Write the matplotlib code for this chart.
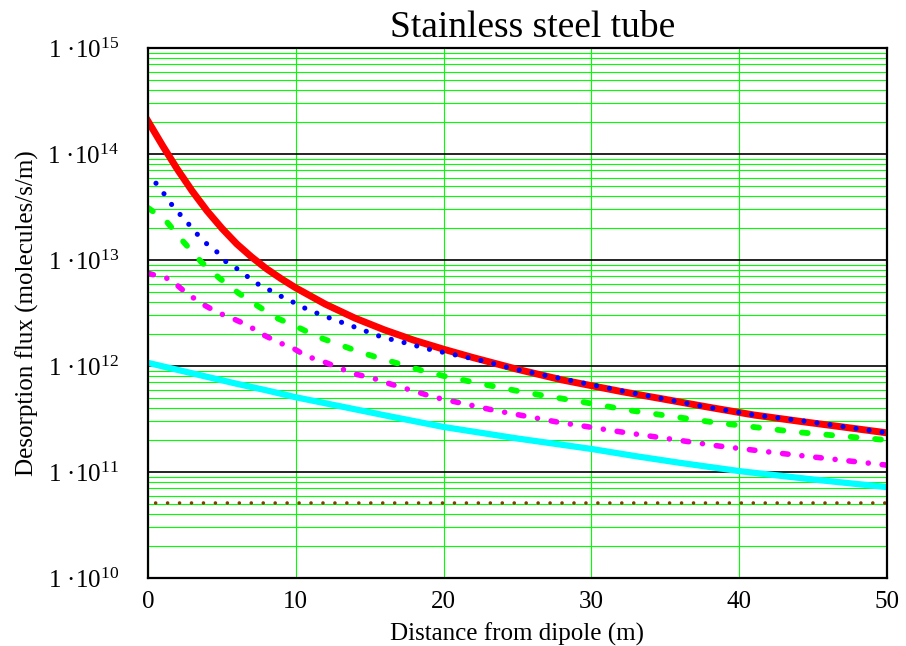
import numpy as np
import matplotlib
matplotlib.use('Agg')
import matplotlib.pyplot as plt
from matplotlib.ticker import LogLocator, NullFormatter

plt.rcParams['font.family'] = 'Liberation Serif'
plt.rcParams['mathtext.fontset'] = 'custom'
plt.rcParams['mathtext.rm'] = 'Liberation Serif'
plt.rcParams['mathtext.it'] = 'Liberation Serif:italic'

# desorption flux along the tube (molecules/s/m) vs distance from dipole (m)
red_x = [0, 1, 2, 3, 4, 5, 6, 7, 8, 9, 10, 12, 14, 16, 18, 20, 22, 25, 28, 32,
         35, 38, 41, 44, 47, 50]
red_y = [2.04e14, 1.19e14, 7.13e13, 4.45e13, 2.90e13, 1.99e13, 1.42e13, 1.07e13,
         8.3e12, 6.67e12, 5.46e12, 3.83e12, 2.83e12, 2.19e12, 1.75e12, 1.44e12,
         1.2e12, 9.3e11, 7.4e11, 5.75e11, 4.84e11, 4.07e11, 3.45e11, 3.02e11,
         2.66e11, 2.34e11]

blue_x = [0.54, 1.15, 1.76, 2.5, 3.25, 3.9, 4.67, 5.28, 6.16, 6.83, 7.7, 8.5, 9.3,
          10.1, 10.8, 12.4, 14.1, 15.8, 17.5, 19.0, 22.9, 24.7, 28.8, 32.4, 37.8,
          41.0, 44.2, 47.5, 50]
blue_y = [5.3e13, 4.1e13, 3.1e13, 2.4e13, 1.8e13, 1.45e13, 1.19e13, 9.6e12, 8.05e12,
          6.8e12, 5.6e12, 5.0e12, 4.3e12, 3.85e12, 3.4e12, 2.8e12, 2.3e12, 1.88e12,
          1.64e12, 1.44e12, 1.10e12, 9.4e11, 7.2e11, 5.7e11, 4.1e11, 3.45e11,
          3.05e11, 2.62e11, 2.34e11]

green_x = [0, 1.15, 2.37, 3.6, 4.8, 6.1, 7.4, 8.8, 10.2, 11.5, 13, 14.5, 15.9, 17.3,
           18.6, 20, 22.5, 25.6, 29.7, 32.4, 38.2, 43.9, 50]
green_y = [3.1e13, 2.4e13, 1.5e13, 9.6e12, 6.8e12, 4.9e12, 3.7e12, 2.8e12, 2.3e12,
           1.88e12, 1.58e12, 1.33e12, 1.16e12, 1.02e12, 9.0e11, 8.05e11, 6.8e11,
           5.6e11, 4.5e11, 3.85e11, 2.95e11, 2.38e11, 2.0e11]

mag_x = [0, 0.47, 1.5, 2.5, 3.6, 4.7, 5.75, 6.8, 7.7, 8.8, 9.9, 10.7, 11.8, 13, 14,
         15.2, 16.2, 17.3, 18.2, 19.3, 23.3, 27.7, 31.9, 38.6, 42.8, 50]
mag_y = [7.5e12, 7.2e12, 6.6e12, 5.0e12, 3.9e12, 3.2e12, 2.8e12, 2.4e12, 2.0e12,
         1.68e12, 1.45e12, 1.24e12, 1.11e12, 9.5e11, 8.4e11, 7.7e11, 6.9e11, 6.2e11,
         5.7e11, 5.1e11, 3.85e11, 2.96e11, 2.4e11, 1.76e11, 1.5e11, 1.16e11]

cyan_x = [0, 2, 4, 6, 8, 10, 13, 16, 20, 25, 30, 33, 36, 40, 45, 50]
cyan_y = [1.07e12, 9.2e11, 7.9e11, 6.8e11, 5.9e11, 5.07e11, 4.17e11, 3.43e11,
          2.66e11, 2.07e11, 1.65e11, 1.41e11, 1.22e11, 1.02e11, 8.5e10, 7.2e10]

brown_x = [0, 50]
brown_y = [5.1e10, 5.1e10]

x_ticks = [0, 10, 20, 30, 40, 50]
y_exps = [10, 11, 12, 13, 14, 15]

fig = plt.figure(figsize=(9.06, 6.46), dpi=100)
ax = fig.add_axes([148 / 906, 1 - 578 / 646, 739 / 906, 530 / 646])

ax.plot(brown_x, brown_y, color='#804000', lw=2.6,
        linestyle=(1.2, (0.01, 3.3)), dash_capstyle='round')
ax.plot(cyan_x, cyan_y, color='#00ffff', lw=4.5)
ax.plot(mag_x, mag_y, color='#ff00ff', lw=4.0,
        linestyle=(0, (1.0, 2.5, 0.01, 2.5)), dash_capstyle='round')
ax.plot(green_x, green_y, color='#00ff00', lw=4.2,
        linestyle=(0, (1.0, 3.2)), dash_capstyle='round')
ax.plot(red_x, red_y, color='#ff0000', lw=5)
ax.plot(blue_x, blue_y, color='#0000ff', lw=3.7,
        linestyle=(0, (0.01, 2.55)), dash_capstyle='round')

ax.set_yscale('log')
ax.set_xlim(0, 50)
ax.set_ylim(1e10, 1e15)
ax.set_xticks(x_ticks)
ax.set_yticks([10.0 ** k for k in y_exps])
ax.set_yticklabels(['1 \u00b710$^{%d}$' % k for k in y_exps])
ax.yaxis.set_minor_locator(LogLocator(base=10, subs=range(2, 10), numticks=20))
ax.yaxis.set_minor_formatter(NullFormatter())
ax.tick_params(which='both', length=0, labelsize=18)
ax.tick_params(axis='x', pad=9)
ax.tick_params(axis='y', pad=21)

ax.set_axisbelow(True)
ax.grid(which='minor', axis='y', color='#00ff00', lw=0.8)
ax.grid(which='major', axis='y', color='black', lw=1.2)
ax.grid(which='major', axis='x', color='#00ff00', lw=0.8)
for s in ax.spines.values():
    s.set_linewidth(1.6)
    s.set_color('black')

ax.set_xlabel('Distance from dipole (m)', fontsize=18, labelpad=7)
ax.set_ylabel('Desorption flux (molecules/s/m)', fontsize=18, labelpad=6)
fig.text(533 / 906, 1 - 37 / 646, 'Stainless steel tube', ha='center',
         va='baseline', fontsize=27)

fig.savefig('out.png', dpi=100)
